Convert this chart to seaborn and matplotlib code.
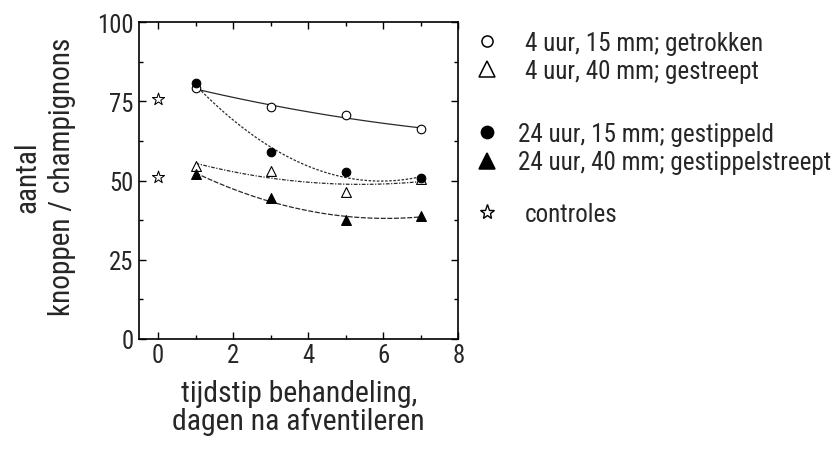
import numpy as np
import pandas as pd
import matplotlib
matplotlib.use("Agg")
import matplotlib.pyplot as plt
import seaborn as sns
from matplotlib.lines import Line2D
from matplotlib.ticker import MultipleLocator
from matplotlib import font_manager
from matplotlib.font_manager import FontProperties

# ---- data ----
days = [1, 3, 5, 7]
open_circle = [79.2, 73.1, 70.6, 66.4]      # 4 uur, 15 mm
open_triangle = [54.7, 53.2, 46.5, 50.5]    # 4 uur, 40 mm
filled_circle = [80.7, 59.0, 52.6, 50.7]    # 24 uur, 15 mm
filled_triangle = [52.1, 44.4, 37.7, 38.9]  # 24 uur, 40 mm
control_x = [0, 0]
control_y = [75.8, 51.0]

labels = ["4 uur, 15 mm; getrokken", "4 uur, 40 mm; gestreept",
          "24 uur, 15 mm; gestippeld", "24 uur, 40 mm; gestippelstreept",
          "controles"]
x_label_lines = ["tijdstip behandeling,", "dagen na afventileren"]
y_label_lines = ["aantal", "knoppen / champignons"]

sns.set_theme(style="ticks")
available = {f.name for f in font_manager.fontManager.ttflist}
prefs = ['Liberation Sans Narrow', 'Roboto Condensed', 'DejaVu Sans Condensed',
         'Open Sans Condensed', 'Liberation Sans']
chosen = [f for f in prefs if f in available]
fam = chosen[0] if chosen else 'DejaVu Sans'
plt.rcParams['font.family'] = [fam, 'DejaVu Sans']

W, H = 838, 460
fig = plt.figure(figsize=(W / 100, H / 100), dpi=100)
renderer = fig.canvas.get_renderer()
PX = 100 / 72.0  # px per pt


def text_w(s, size):
    fp = FontProperties(family=[fam, 'DejaVu Sans'], size=size)
    w, h, d = renderer.get_text_width_height_descent(s, fp, ismath=False)
    return w


def fit(pairs, base=20.0):
    return float(np.mean([base * tgt / text_w(s, base) for s, tgt in pairs]))


def lp_metrics(size):
    fp = FontProperties(family=[fam, 'DejaVu Sans'], size=size)
    w, h, d = renderer.get_text_width_height_descent("lp", fp, ismath=False)
    return h, d


def linespacing_for(size, baseline_px):
    h, d = lp_metrics(size)
    return (baseline_px - d) / (h - d)


fs_tick = fit([("100", 36.7), ("75", 24.5)])
fs_leg = fit([(labels[0], 240), (labels[3], 312)])
fs_x = fit([(x_label_lines[0], 231), (x_label_lines[1], 258)])
fs_y = fit([(y_label_lines[1], 287), (y_label_lines[0], 69)])

ax = fig.add_axes([139.3 / W, (H - 340) / H, 319 / W, (340 - 23.3) / H])

lc = "#2a2a2a"
lw = 0.9
series = [
    (open_circle, "o", "white", "-", 38, 8.0),
    (open_triangle, "^", "white", (0, (3, 1.2, 1, 1.2)), 50, 11.0),
    (filled_circle, "o", "black", (0, (2, 1.3)), 38, 8.8),
    (filled_triangle, "^", "black", (0, (4, 1.3)), 50, 11.0),
]

# fitted curves (quadratic regression through each series)
for ys, m, fc, ls, s_area, lms in series:
    df = pd.DataFrame({"x": days, "y": ys})
    sns.regplot(data=df, x="x", y="y", order=2, ci=None, scatter=False, ax=ax,
                line_kws=dict(color=lc, lw=lw, linestyle=ls))

# markers
handles = []
for ys, m, fc, ls, s_area, lms in series:
    df = pd.DataFrame({"x": days, "y": ys})
    sns.scatterplot(data=df, x="x", y="y", marker=m, s=s_area, color=fc,
                    edgecolor="black", linewidth=0.8, ax=ax, zorder=5)
    handles.append(Line2D([], [], linestyle="none", marker=m, markersize=lms,
                          markerfacecolor=fc, markeredgecolor="black", markeredgewidth=1.1))
dfc = pd.DataFrame({"x": control_x, "y": control_y})
sns.scatterplot(data=dfc, x="x", y="y", marker="*", s=85, color="white",
                edgecolor="black", linewidth=0.75, ax=ax, zorder=5)
handles.append(Line2D([], [], linestyle="none", marker="*", markersize=11.0,
                      markerfacecolor="white", markeredgecolor="black", markeredgewidth=1.0))

ax.set_xlim(-0.5, 8)
ax.set_ylim(0, 100)
ax.xaxis.set_major_locator(MultipleLocator(2))
ax.xaxis.set_minor_locator(MultipleLocator(1))
ax.yaxis.set_major_locator(MultipleLocator(25))
ax.yaxis.set_minor_locator(MultipleLocator(12.5))
ax.tick_params(which="both", direction="in", top=True, right=True, color="black", width=1)
ax.tick_params(which="major", length=5, labelsize=fs_tick)
ax.tick_params(axis="y", which="major", pad=4.3)
ax.tick_params(axis="x", which="major", pad=3)
ax.tick_params(which="minor", length=3)
for sp in ax.spines.values():
    sp.set_linewidth(1.2)
    sp.set_color("black")

ax.set_xlabel("\n".join(x_label_lines), fontsize=fs_x,
              linespacing=linespacing_for(fs_x, 28))
ax.set_ylabel("\n".join(y_label_lines), fontsize=fs_y,
              linespacing=linespacing_for(fs_y, 35))
ax.xaxis.set_label_coords(0.5, (340 - 380) / 316.7)
ax.yaxis.set_label_coords((76 - 139.3) / 319, (340 - 177) / 316.7)

# legends: three groups
fs_leg_px = fs_leg * PX
lp_h, lp_d = lp_metrics(fs_leg)
row_h = lp_h
lab_sp = (28.5 - row_h) / fs_leg_px
hl = 0.8
mx = 486.7
left = mx - hl * fs_leg_px / 2


def top_for(marker_y):
    # top of first row box relative to marker centre
    return marker_y - ((lp_h - lp_d) - 0.35 * fs_leg_px)


def add_leg(hs, ls_, marker_y, text_x):
    pad = (text_x - left) / fs_leg_px - hl
    lg = ax.legend(hs, ls_, frameon=False, fontsize=fs_leg, handlelength=hl,
                   handletextpad=pad, borderpad=0, borderaxespad=0,
                   labelspacing=lab_sp, loc="upper left",
                   bbox_to_anchor=(left / W, 1 - top_for(marker_y) / H),
                   bbox_transform=fig.transFigure)
    return lg


l1 = add_leg(handles[0:2], labels[0:2], 41.7, 525)
ax.add_artist(l1)
l2 = add_leg(handles[2:4], labels[2:4], 133.0, 518)
ax.add_artist(l2)
l3 = add_leg(handles[4:5], labels[4:5], 213.3, 525)

fig.savefig("out.png", dpi=100)
